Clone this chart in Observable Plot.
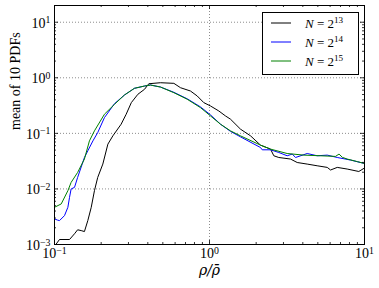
<!DOCTYPE html>
<html><head><meta charset="utf-8">
<script src="https://cdn.jsdelivr.net/npm/d3@7"></script>
<script src="https://cdn.jsdelivr.net/npm/@observablehq/plot@0.6"></script>
<style>
body{margin:0;background:#fff;}
#chart{width:379px;height:288px;}
#chart svg text{font-family:"Liberation Serif",serif;}
#chart svg text.xl{font-family:"DejaVu Serif",serif;}
</style></head><body><div id="chart"></div>
<script>
const seriesLabels = ["13", "14", "15"];
const seriesColors = ["black", "blue", "green"];

const x13 = [0.102, 0.1077, 0.125, 0.1346, 0.141, 0.1486, 0.156, 0.164, 0.1726, 0.181, 0.190, 0.205, 0.221, 0.238, 0.269, 0.290, 0.313, 0.345, 0.381, 0.406, 0.483, 0.589, 0.650, 0.754, 0.833, 0.919, 1.015, 1.148, 1.268, 1.366, 1.585, 1.84, 2.133, 2.475, 2.60, 2.80, 3.33, 3.68, 4.27, 4.95, 5.75, 6.04, 6.67, 7.73, 9.19, 10];
const y13 = [0.001, 0.00123, 0.00123, 0.00156, 0.00184, 0.00178, 0.00171, 0.00269, 0.00467, 0.0093, 0.0161, 0.0280, 0.064, 0.0902, 0.146, 0.221, 0.357, 0.505, 0.621, 0.782, 0.815, 0.795, 0.663, 0.578, 0.471, 0.357, 0.311, 0.253, 0.206, 0.180, 0.119, 0.0902, 0.0614, 0.0521, 0.0395, 0.0368, 0.0345, 0.0299, 0.0280, 0.0261, 0.0244, 0.0219, 0.0244, 0.0228, 0.0206, 0.0238];

const x14 = [0.1, 0.1045, 0.1077, 0.116, 0.122, 0.125, 0.128, 0.1346, 0.141, 0.156, 0.164, 0.177, 0.190, 0.210, 0.244, 0.283, 0.328, 0.381, 0.416, 0.483, 0.589, 0.718, 0.875, 1.015, 1.178, 1.366, 1.585, 2.133, 2.188, 2.475, 2.80, 3.17, 3.42, 3.59, 4.27, 4.95, 5.75, 6.67, 8.12, 10];
const y14 = [0.00289, 0.00275, 0.00269, 0.00331, 0.00467, 0.00705, 0.00998, 0.01066, 0.0161, 0.0368, 0.0485, 0.0733, 0.1033, 0.192, 0.343, 0.491, 0.647, 0.711, 0.741, 0.682, 0.548, 0.419, 0.299, 0.215, 0.146, 0.1086, 0.0865, 0.0556, 0.0506, 0.0506, 0.0453, 0.0395, 0.0424, 0.0368, 0.0434, 0.0395, 0.0406, 0.0368, 0.0331, 0.0287];

const x15 = [0.1, 0.1105, 0.122, 0.128, 0.141, 0.156, 0.168, 0.181, 0.210, 0.244, 0.283, 0.328, 0.381, 0.416, 0.483, 0.589, 0.718, 0.875, 1.015, 1.178, 1.366, 1.585, 2.133, 2.475, 3.17, 4.06, 5.20, 6.5, 6.85, 7.2, 7.73, 9.0, 10];
const y15 = [0.00467, 0.00537, 0.0093, 0.0131, 0.0198, 0.0345, 0.0733, 0.111, 0.221, 0.334, 0.491, 0.647, 0.711, 0.741, 0.682, 0.539, 0.411, 0.290, 0.206, 0.146, 0.111, 0.0902, 0.0614, 0.0521, 0.0434, 0.0406, 0.0395, 0.0385, 0.0424, 0.037, 0.0345, 0.031, 0.0287];

const xMajor = [0.1, 1, 10];
const xMajorLabels = ["10^−1", "10^0", "10^1"];
const yMajor = [0.001, 0.01, 0.1, 1, 10];
const yMajorLabels = ["10^−3", "10^−2", "10^−1", "10^0", "10^1"];
const xMinor = [0.2, 0.3, 0.4, 0.5, 0.6, 0.7, 0.8, 0.9, 2, 3, 4, 5, 6, 7, 8, 9];
const yMinor = [0.002, 0.003, 0.004, 0.005, 0.006, 0.007, 0.008, 0.009,
                0.02, 0.03, 0.04, 0.05, 0.06, 0.07, 0.08, 0.09,
                0.2, 0.3, 0.4, 0.5, 0.6, 0.7, 0.8, 0.9,
                2, 3, 4, 5, 6, 7, 8, 9];
const xLabel = "ρ/ρ̄";
const yLabel = "mean of 10 PDFs";

const W = 379, H = 288, mL = 54, mR = 15, mT = 5, mB = 44;
const iw = W - mL - mR, ih = H - mT - mB;
const MAJ = 4, MIN = 2;
const FONT = "Liberation Serif, serif";

const rows = [];
[[x13, y13], [x14, y14], [x15, y15]].forEach(([xs, ys], i) =>
  xs.forEach((x, j) => rows.push({x, y: ys[j], s: seriesLabels[i]})));

const grid = {stroke: "#000", strokeOpacity: 0.45, strokeWidth: 1, strokeDasharray: "1,2"};
const tk = {stroke: "#000", strokeWidth: 0.8};

const plot = Plot.plot({
  width: W, height: H,
  marginLeft: mL, marginRight: mR, marginTop: mT, marginBottom: mB,
  style: {fontFamily: FONT, fontSize: "14px", background: "#fff", color: "#000"},
  x: {type: "log", domain: [0.1, 10]},
  y: {type: "log", domain: [0.001, 20]},
  color: {domain: seriesLabels, range: seriesColors},
  marks: [
    Plot.ruleX(xMajor, {x: d => d, ...grid}),
    Plot.ruleY(yMajor, {y: d => d, ...grid}),
    Plot.line(rows, {x: "x", y: "y", z: "s", stroke: "s", strokeWidth: 1, clip: true}),
    Plot.tickX(xMajor, {x: d => d, insetTop: ih - MAJ, ...tk}),
    Plot.tickX(xMajor, {x: d => d, insetBottom: ih - MAJ, ...tk}),
    Plot.tickX(xMinor, {x: d => d, insetTop: ih - MIN, ...tk}),
    Plot.tickX(xMinor, {x: d => d, insetBottom: ih - MIN, ...tk}),
    Plot.tickY(yMajor, {y: d => d, insetRight: iw - MAJ, ...tk}),
    Plot.tickY(yMajor, {y: d => d, insetLeft: iw - MAJ, ...tk}),
    Plot.tickY(yMinor, {y: d => d, insetRight: iw - MIN, ...tk}),
    Plot.tickY(yMinor, {y: d => d, insetLeft: iw - MIN, ...tk}),
    Plot.frame({stroke: "#000", strokeWidth: 1}),
    Plot.axisX(xMajor, {tickSize: 0, tickPadding: 4, fontSize: 14, label: null,
      tickFormat: d => xMajorLabels[xMajor.indexOf(d)]}),
    Plot.axisY(yMajor, {tickSize: 0, tickPadding: 4, fontSize: 14, label: null, dy: 1,
      tickFormat: d => yMajorLabels[yMajor.indexOf(d)]}),
    Plot.text([xLabel], {frameAnchor: "bottom", text: d => d, dy: 30, fontSize: 14, fontStyle: "italic", className: "xl"}),
    Plot.text([yLabel], {frameAnchor: "left", text: d => d, rotate: -90, dx: -39, dy: 5, fontSize: 14})
  ]
});

const NS = "http://www.w3.org/2000/svg";
function setSup(el, base, exp, pre) {
  el.textContent = "";
  if (pre) {
    const p = document.createElementNS(NS, "tspan");
    p.setAttribute("font-style", "italic");
    p.textContent = pre.italic;
    el.appendChild(p);
    const q = document.createElementNS(NS, "tspan");
    q.textContent = pre.rest;
    el.appendChild(q);
  }
  const b = document.createElementNS(NS, "tspan");
  b.textContent = base;
  el.appendChild(b);
  const s = document.createElementNS(NS, "tspan");
  s.setAttribute("dy", "-0.45em");
  s.setAttribute("font-size", "0.7em");
  s.textContent = exp;
  el.appendChild(s);
}
plot.querySelectorAll("text").forEach(t => {
  const c = t.textContent;
  if (c.includes("^")) { const [b, e] = c.split("^"); setSup(t, b, e); }
});
plot.querySelectorAll("g[aria-label='text'] text").forEach(t => {
  if (t.textContent === xLabel) t.setAttribute("class", "xl");
});

// legend
const svg = d3.select(plot);
const lg = svg.append("g").attr("font-size", 13).attr("text-anchor", "start");
lg.append("rect").attr("x", 262.5).attr("y", 12.5).attr("width", 96).attr("height", 62)
  .attr("fill", "#fff").attr("stroke", "#000").attr("stroke-width", 1);
seriesLabels.forEach((lab, i) => {
  const yy = 23 + i * 19;
  lg.append("line").attr("x1", 271).attr("x2", 291).attr("y1", yy).attr("y2", yy)
    .attr("stroke", seriesColors[i]).attr("stroke-width", 1);
  const t = lg.append("text").attr("x", 305).attr("y", yy + 4.5).node();
  setSup(t, "2", lab, {italic: "N", rest: " = "});
});

document.getElementById("chart").appendChild(plot);
</script></body></html>
